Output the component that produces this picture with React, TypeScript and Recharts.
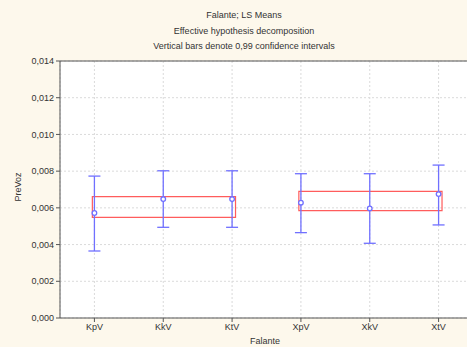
import React from 'react'
import {
  ComposedChart,
  Scatter,
  ErrorBar,
  XAxis,
  YAxis,
  CartesianGrid,
  ReferenceArea,
  ReferenceLine,
} from 'recharts'

// categories (Falante) and LS means
const falantes = ['KpV', 'KkV', 'KtV', 'XpV', 'XkV', 'XtV']
const means = [0.00572, 0.00648, 0.00648, 0.00628, 0.00597, 0.00675]
const lower = [0.00365, 0.00494, 0.00494, 0.00465, 0.00407, 0.00507]
const upper = [0.00773, 0.00802, 0.00802, 0.00786, 0.00786, 0.00833]

// red group boxes: first/last category index (1-based) and y range
const boxFrom = [1, 4]
const boxTo = [3, 6]
const boxLow = [0.00548, 0.00585]
const boxHigh = [0.00661, 0.0069]

const yTicks = [0, 0.002, 0.004, 0.006, 0.008, 0.01, 0.012, 0.014]

const data = falantes.map((name, i) => ({
  x: i + 1,
  name,
  mean: means[i],
  err: [means[i] - lower[i], upper[i] - means[i]],
}))

const BLUE = '#7070ff'
const RED = '#ff5c5c'
const FONT = '"Liberation Sans", Arial, sans-serif'

const Dot = (props: any) => {
  const { cx, cy } = props
  return <circle cx={cx} cy={cy} r={2.3} fill="#fff" stroke={BLUE} strokeWidth={1.3} />
}

const txt: React.CSSProperties = {
  position: 'absolute',
  fontFamily: FONT,
  fontSize: 9,
  color: '#333',
  whiteSpace: 'nowrap',
  lineHeight: '10px',
}

export default function App() {
  return (
    <div
      style={{
        position: 'absolute',
        left: 0,
        top: 0,
        width: 467,
        height: 347,
        overflow: 'hidden',
        background: '#fdf8ec',
      }}
    >
      <div style={{ ...txt, left: 0, width: 488, textAlign: 'center', top: 10 }}>Falante; LS Means</div>
      <div style={{ ...txt, left: 0, width: 488, textAlign: 'center', top: 26 }}>Effective hypothesis decomposition</div>
      <div style={{ ...txt, left: 0, width: 488, textAlign: 'center', top: 41 }}>
        Vertical bars denote 0,99 confidence intervals
      </div>
      <div
        style={{
          ...txt,
          left: 18,
          top: 187,
          transform: 'translate(-50%, -50%) rotate(-90deg)',
        }}
      >
        PreVoz
      </div>
      <div style={{ ...txt, left: 232, width: 66, textAlign: 'center', top: 336 }}>Falante</div>

      <ComposedChart
        width={480}
        height={347}
        data={data}
        margin={{ top: 61, right: 7, bottom: 9, left: 10 }}
        style={{ position: 'absolute', left: 0, top: 0 }}
      >
        <CartesianGrid stroke="#dadada" strokeDasharray="2 2" fill="#fff" fillOpacity={1} />
        <XAxis
          type="number"
          dataKey="x"
          domain={[0.5, 6.5]}
          ticks={[1, 2, 3, 4, 5, 6]}
          tickFormatter={(v: number) => falantes[v - 1]}
          tick={{ fontSize: 9, fill: '#333', fontFamily: FONT }}
          tickSize={4}
          stroke="#555"
          height={20}
        />
        <YAxis
          type="number"
          domain={[0, 0.014]}
          ticks={yTicks}
          tickFormatter={(v: number) => v.toFixed(3).replace('.', ',')}
          tick={{ fontSize: 9, fill: '#333', fontFamily: FONT }}
          tickSize={4}
          stroke="#555"
          width={50}
        />
        <ReferenceLine y={0.014} stroke="#555" strokeWidth={1} />
        {boxFrom.map((f, i) => (
          <ReferenceArea
            key={i}
            x1={f - 0.03}
            x2={boxTo[i] + 0.05}
            y1={boxLow[i]}
            y2={boxHigh[i]}
            fill="none"
            fillOpacity={0}
            stroke={RED}
            strokeWidth={1.2}
          />
        ))}
        <Scatter dataKey="mean" shape={<Dot />} isAnimationActive={false}>
          <ErrorBar dataKey="err" direction="y" width={6} stroke={BLUE} strokeWidth={1.3} />
        </Scatter>
      </ComposedChart>
    </div>
  )
}
